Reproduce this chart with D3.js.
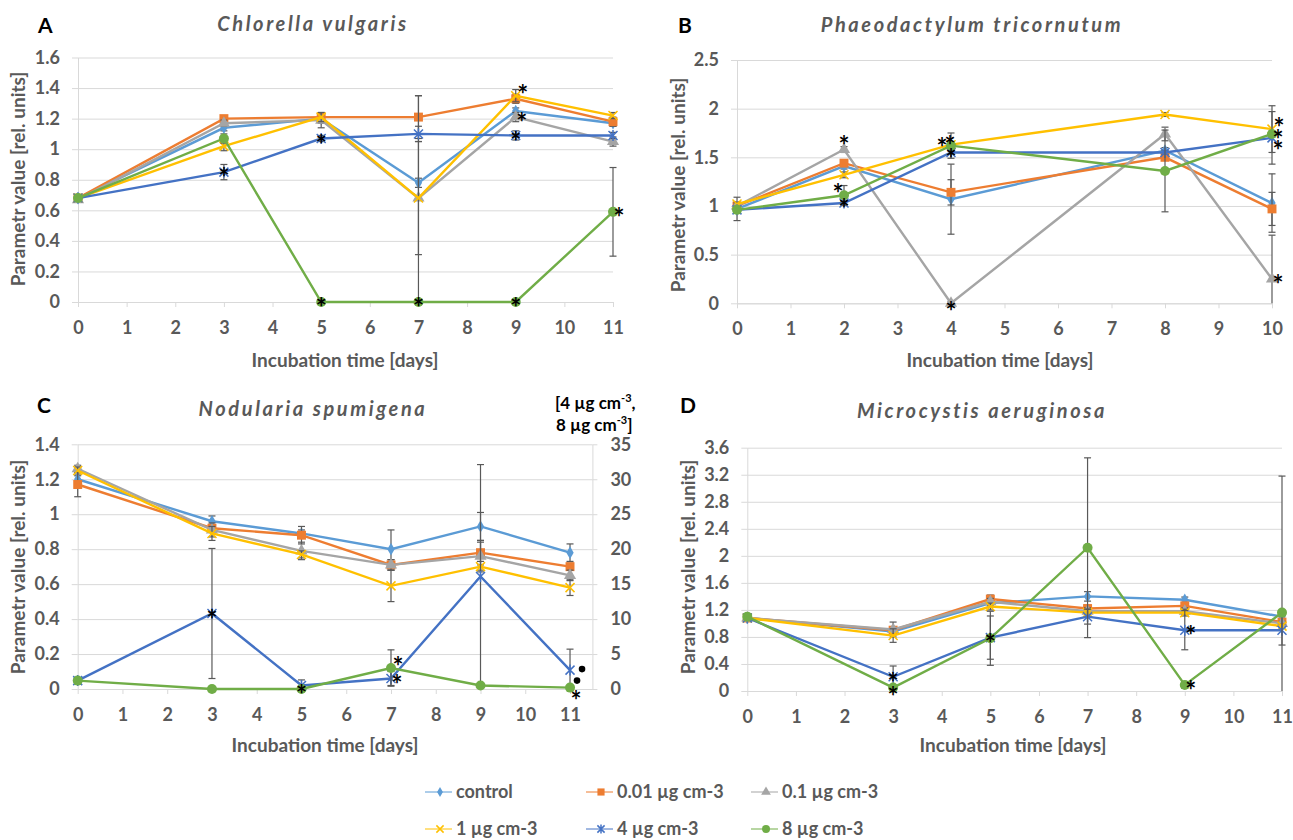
<!DOCTYPE html>
<html>
<head>
<meta charset="utf-8">
<script src="https://cdn.jsdelivr.net/npm/d3@7"></script>
<style>
  body { margin: 0; background: #fff; }
  text { font-family: Lato, "Open Sans", sans-serif; }
</style>
</head>
<body>
<div id="chart"></div>
<script>
// series names (legend order)
const seriesNames = ['control', '0.01 µg cm-3', '0.1 µg cm-3', '1 µg cm-3', '4 µg cm-3', '8 µg cm-3'];

// A - Chlorella vulgaris
const daysA = [0, 3, 5, 7, 9, 11];
const valuesA = [
    [0.68, 1.14, 1.20, 0.78, 1.25, 1.17],
    [0.68, 1.20, 1.21, 1.21, 1.33, 1.18],
    [0.67, 1.17, 1.19, 0.68, 1.21, 1.05],
    [0.68, 1.02, 1.21, 0.68, 1.35, 1.22],
    [0.68, 0.85, 1.07, 1.10, 1.09, 1.09],
    [0.68, 1.07, 0, 0, 0, 0.59]
];
const errorsA = [
    [0.01, 0.02, 0.03, 0.03, 0.02, 0.02],
    [0.01, 0.02, 0.02, 0.14, 0.03, 0.03],
    [0.01, 0.02, 0.05, 0.37, 0.03, 0.03],
    [0.01, 0.03, 0.03, 0.67, 0.04, 0.02],
    [0.01, 0.05, 0.02, 0.05, 0.03, 0.02],
    [0.01, 0.03, 0, 0, 0, 0.29]
];
const starsA = [[3, 4, 'on'], [5, 4, 'on'], [5, 5, 'on'], [7, 5, 'on'], [9, 5, 'on'],
    [9, 4, 'on'], [9, 2, 'r'], [9, 3, 'ur'], [11, 5, 'r']];

// B - Phaeodactylum tricornutum
const daysB = [0, 2, 4, 8, 10];
const valuesB = [
    [0.97, 1.41, 1.07, 1.57, 1.03],
    [1.00, 1.44, 1.14, 1.50, 0.97],
    [1.00, 1.58, 0, 1.74, 0.25],
    [1.02, 1.32, 1.63, 1.94, 1.79],
    [0.96, 1.03, 1.55, 1.55, 1.70],
    [0.96, 1.11, 1.62, 1.36, 1.74]
];
const errorsB = [
    [0.12, 0.03, 0.36, 0.03, 0.30],
    [0.03, 0.03, 0.13, 0.03, 0.17],
    [0.02, 0.03, 0.02, 0.07, 0.45],
    [0.02, 0.03, 0.03, 0.02, 0.24],
    [0.02, 0.02, 0.02, 0.02, 0.27],
    [0.02, 0.10, 0.13, 0.42, 0.03]
];
const starsB = [[2, 2, 'u'], [2, 5, 'ul'], [2, 4, 'on'], [4, 5, 'l'], [4, 3, 'us'],
    [4, 4, 'on'], [4, 2, 'd'], [10, 3, 'ur'], [10, 5, 'r'], [10, 4, 'dr'], [10, 2, 'r']];

// C - Nodularia spumigena (4 and 8 µg cm-3 on the right axis)
const daysC = [0, 3, 5, 7, 9, 11];
const valuesC = [
    [1.20, 0.96, 0.89, 0.80, 0.93, 0.78],
    [1.17, 0.92, 0.88, 0.71, 0.78, 0.70],
    [1.26, 0.91, 0.79, 0.71, 0.76, 0.65],
    [1.25, 0.89, 0.77, 0.59, 0.70, 0.58],
    [1.2, 10.8, 0.5, 1.5, 16.1, 2.7],
    [1.2, 0, 0, 3.0, 0.5, 0.2]
];
const errorsC = [
    [0.02, 0.03, 0.02, 0.11, 0.08, 0.05],
    [0.07, 0.02, 0.05, 0.03, 0.07, 0.02],
    [0.02, 0.04, 0.05, 0.03, 0.08, 0.03],
    [0.02, 0.04, 0.02, 0.09, 0.03, 0.045],
    [0.2, 9.3, 0.8, 1.0, 16, 3.0],
    [0.2, 0, 0, 2.6, 0.3, 0.1]
];
const starsC = [[3, 4, 'on'], [5, 5, 'on'], [7, 5, 'ur'], [7, 4, 'r'], [11, 5, 'dr']];
const dotsC = [[11, 4, 'rr'], [11, 5, 'ur']];

// D - Microcystis aeruginosa
const daysD = [0, 3, 5, 7, 9, 11];
const valuesD = [
    [1.08, 0.88, 1.30, 1.40, 1.35, 1.10],
    [1.08, 0.90, 1.36, 1.22, 1.26, 1.02],
    [1.08, 0.91, 1.32, 1.18, 1.18, 1.00],
    [1.08, 0.82, 1.25, 1.16, 1.16, 0.96],
    [1.08, 0.21, 0.79, 1.10, 0.90, 0.90],
    [1.10, 0.05, 0.78, 2.12, 0.09, 1.16]
];
const errorsD = [
    [0.02, 0.05, 0.05, 0.07, 0.04, 0.03],
    [0.02, 0.05, 0.06, 0.05, 0.05, 0.03],
    [0.02, 0.11, 0.05, 0.05, 0.05, 0.03],
    [0.02, 0.10, 0.05, 0.05, 0.05, 0.03],
    [0.02, 0.16, 0.32, 0.11, 0.29, 0.22],
    [0.02, 0.03, 0.40, 1.33, 0.05, 2.02]
];
const starsD = [[3, 4, 'on'], [3, 5, 'd'], [5, 5, 'on'], [9, 4, 'r'], [9, 5, 'r']];

const colors = ['#5B9BD5', '#ED7D31', '#A5A5A5', '#FFC000', '#4472C4', '#70AD47'];
const GRID = '#D9D9D9', TXT = '#595959';
const offsets = { on: [0, 0], r: [6, 0], rr: [12, -1], ur: [7, -7], u: [0, -10], us: [-1, -5],
    ul: [-6, -7], l: [-9, -4], d: [0, 3], dr: [6, 7] };

const panels = [
    { letter: 'A', title: 'Chlorella vulgaris', days: daysA, values: valuesA, errors: errorsA, stars: starsA,
      left: 78, right: 613, xMax: 11, xTicks: 11, bottom: 302, top: 57.5, yMax: 1.6, yStep: 0.2,
      letterPos: [38, 33], titlePos: [313, 31], yTitle: [18, 179], xTitle: [345, 367] },
    { letter: 'B', title: 'Phaeodactylum tricornutum', days: daysB, values: valuesB, errors: errorsB, stars: starsB,
      left: 737, right: 1272, xMax: 10, xTicks: 10, bottom: 303.3, top: 60, yMax: 2.5, yStep: 0.5,
      letterPos: [678, 33], titlePos: [972, 32], yTitle: [678, 185], xTitle: [1000, 367] },
    { letter: 'C', title: 'Nodularia spumigena', days: daysC, values: valuesC, errors: errorsC, stars: starsC, dots: dotsC,
      left: 77.7, right: 592.4, xMax: 11.5, xTicks: 11, bottom: 689, top: 444.3, yMax: 1.4, yStep: 0.2,
      y2Max: 35, y2Step: 5, y2Series: [4, 5],
      letterPos: [37, 413], titlePos: [313, 416], yTitle: [18, 567], xTitle: [325, 752] },
    { letter: 'D', title: 'Microcystis aeruginosa', days: daysD, values: valuesD, errors: errorsD, stars: starsD,
      left: 747.3, right: 1282, xMax: 11, xTicks: 11, bottom: 691, top: 447.7, yMax: 3.6, yStep: 0.4,
      letterPos: [680, 413], titlePos: [982, 418], yTitle: [688, 567], xTitle: [1013, 752] }
];

const svg = d3.select('#chart').append('svg')
    .attr('width', 1293).attr('height', 840);

function drawMarker(g, i, cx, cy, k = 1) {
    const c = colors[i];
    const m = g.append('g').attr('transform', `translate(${cx},${cy})`);
    if (i === 0) m.append('path').attr('d', d3.symbol(d3.symbolDiamond, 46 * k * k)()).attr('fill', c);
    else if (i === 1) m.append('path').attr('d', d3.symbol(d3.symbolSquare, 80 * k * k)()).attr('fill', c);
    else if (i === 2) m.append('path').attr('d', d3.symbol(d3.symbolTriangle, 64 * k * k)()).attr('fill', c);
    else if (i === 5) m.append('circle').attr('r', 5 * k).attr('fill', c);
    else {
        const s = 4.5 * k;
        let d = `M${-s},${-s}L${s},${s}M${-s},${s}L${s},${-s}`;
        if (i === 4) d += `M0,${-s - 1}L0,${s + 1}`;
        m.append('path').attr('d', d).attr('stroke', c).attr('stroke-width', 1.5).attr('fill', 'none');
    }
}

const fmt = d => String(+d.toFixed(2));
const STAR = 26;

panels.forEach(p => {
    const g = svg.append('g');
    const x = d3.scaleLinear([0, p.xMax], [p.left, p.right]);
    const y = d3.scaleLinear([0, p.yMax], [p.bottom, p.top]);
    const y2 = p.y2Max ? d3.scaleLinear([0, p.y2Max], [p.bottom, p.top]) : null;
    const yTicks = d3.range(0, Math.round(p.yMax / p.yStep) + 1).map(i => i * p.yStep);
    const scaleFor = i => (y2 && p.y2Series.includes(i)) ? y2 : y;

    // gridlines
    g.append('g').attr('transform', `translate(${p.left},0)`)
        .call(d3.axisRight(y).tickValues(yTicks).tickSize(p.right - p.left).tickFormat(''))
        .call(a => a.select('.domain').remove())
        .selectAll('line').attr('stroke', GRID);

    // y axis
    const ya = g.append('g').attr('transform', `translate(${p.left},0)`)
        .call(d3.axisLeft(y).tickValues(yTicks).tickSize(6).tickSizeOuter(0).tickPadding(12).tickFormat(fmt));
    ya.select('.domain').attr('stroke', GRID);
    ya.selectAll('line').attr('stroke', GRID);
    ya.selectAll('text').attr('fill', TXT).style('font-size', '18px').style('font-weight', 700);

    if (y2) {
        const y2Ticks = d3.range(0, p.y2Max / p.y2Step + 1).map(i => i * p.y2Step);
        const ra = g.append('g').attr('transform', `translate(${p.right},0)`)
            .call(d3.axisRight(y2).tickValues(y2Ticks).tickSize(5).tickSizeOuter(0).tickPadding(13));
        ra.select('.domain').attr('stroke', GRID);
        ra.selectAll('line').attr('stroke', GRID);
        ra.selectAll('text').attr('fill', TXT).style('font-size', '18px').style('font-weight', 700);
        const rt = g.append('g').attr('font-size', 17).attr('font-weight', 700).attr('fill', '#000');
        const l1 = rt.append('text').attr('x', 555).attr('y', p.top - 35);
        l1.append('tspan').text('[4 µg cm');
        l1.append('tspan').text('-3').attr('font-size', 11).attr('dy', -7);
        l1.append('tspan').text(',').attr('dy', 7);
        const l2 = rt.append('text').attr('x', 556).attr('y', p.top - 13);
        l2.append('tspan').text('8 µg cm');
        l2.append('tspan').text('-3').attr('font-size', 11).attr('dy', -7);
        l2.append('tspan').text(']').attr('dy', 7);
    }

    // x axis
    const xa = g.append('g').attr('transform', `translate(0,${p.bottom})`)
        .call(d3.axisBottom(x).tickValues(d3.range(0, p.xTicks + 1)).tickSize(5).tickSizeOuter(0).tickPadding(14));
    xa.select('.domain').attr('stroke', GRID);
    xa.selectAll('line').attr('stroke', GRID);
    xa.selectAll('text').attr('fill', TXT).style('font-size', '18px').style('font-weight', 700);

    // titles
    g.append('text').attr('x', p.letterPos[0]).attr('y', p.letterPos[1])
        .attr('font-family', 'Liberation Sans, Arial, sans-serif')
        .attr('font-size', 21).attr('font-weight', 700).attr('fill', '#000').text(p.letter);
    g.append('text').attr('x', p.titlePos[0]).attr('y', p.titlePos[1])
        .attr('text-anchor', 'middle').attr('font-size', 20).attr('font-weight', 700)
        .attr('font-style', 'italic').attr('letter-spacing', 2.6).attr('fill', TXT).text(p.title);
    g.append('text').attr('transform', `translate(${p.yTitle[0]},${p.yTitle[1]}) rotate(-90)`)
        .attr('text-anchor', 'middle').attr('dy', '0.35em').attr('font-size', 19).attr('font-weight', 700)
        .attr('fill', TXT).text('Parametr value [rel. units]');
    g.append('text').attr('x', p.xTitle[0]).attr('y', p.xTitle[1])
        .attr('text-anchor', 'middle').attr('font-size', 19).attr('font-weight', 700)
        .attr('fill', TXT).text('Incubation time [days]');

    // series
    const yMin = 0;
    p.values.forEach((vals, i) => {
        const ys = scaleFor(i);
        const top = ys.domain()[1];
        const pts = p.days.map((d, j) => [d, vals[j], p.errors[i][j]]);
        const sg = g.append('g');
        pts.filter(d => d[2] > 0).forEach(d => {
            const lo = Math.max(yMin, d[1] - d[2]), hi = Math.min(top, d[1] + d[2]);
            sg.append('line').attr('x1', x(d[0])).attr('x2', x(d[0]))
                .attr('y1', ys(lo)).attr('y2', ys(hi)).attr('stroke', TXT).attr('stroke-width', 1.2);
            [[d[1] + d[2], hi], [d[1] - d[2], lo]].forEach(([raw, v]) => {
                if (raw === v) sg.append('line').attr('x1', x(d[0]) - 3.5).attr('x2', x(d[0]) + 3.5)
                    .attr('y1', ys(v)).attr('y2', ys(v)).attr('stroke', TXT).attr('stroke-width', 1.2);
            });
        });
        sg.append('path').datum(pts)
            .attr('d', d3.line().x(d => x(d[0])).y(d => ys(d[1])))
            .attr('fill', 'none').attr('stroke', colors[i]).attr('stroke-width', 2.4);
        pts.forEach(d => drawMarker(sg, i, x(d[0]), ys(d[1])));
    });

    // significance asterisks
    const posOf = ([d, i, place]) => {
        const j = p.days.indexOf(d);
        const o = offsets[place];
        return [x(d) + o[0], scaleFor(i)(p.values[i][j]) + o[1]];
    };
    p.stars.forEach(s => {
        const [cx, cy] = posOf(s);
        g.append('text').attr('x', cx).attr('y', cy + STAR * 0.58)
            .attr('text-anchor', 'middle').attr('font-family', 'DejaVu Sans, sans-serif')
            .attr('font-size', STAR).attr('font-weight', 700).attr('fill', '#000').text('*');
    });
    (p.dots || []).forEach(s => {
        const [cx, cy] = posOf(s);
        g.append('circle').attr('cx', cx).attr('cy', cy).attr('r', 3.3).attr('fill', '#000');
    });
});

// legend
const legendCols = [440, 601, 766], legendRows = [792, 829];
const legend = svg.append('g');
seriesNames.forEach((name, i) => {
    const cx = legendCols[i % 3], cy = legendRows[Math.floor(i / 3)];
    legend.append('line').attr('x1', cx - 15).attr('x2', cx + 12).attr('y1', cy).attr('y2', cy)
        .attr('stroke', colors[i]).attr('stroke-width', 1);
    drawMarker(legend, i, cx, cy, 0.8);
    legend.append('text').attr('x', cx + 16).attr('y', cy).attr('dy', '0.35em')
        .attr('font-size', 18).attr('font-weight', 700).attr('fill', TXT).text(name);
});
</script>
</body>
</html>
